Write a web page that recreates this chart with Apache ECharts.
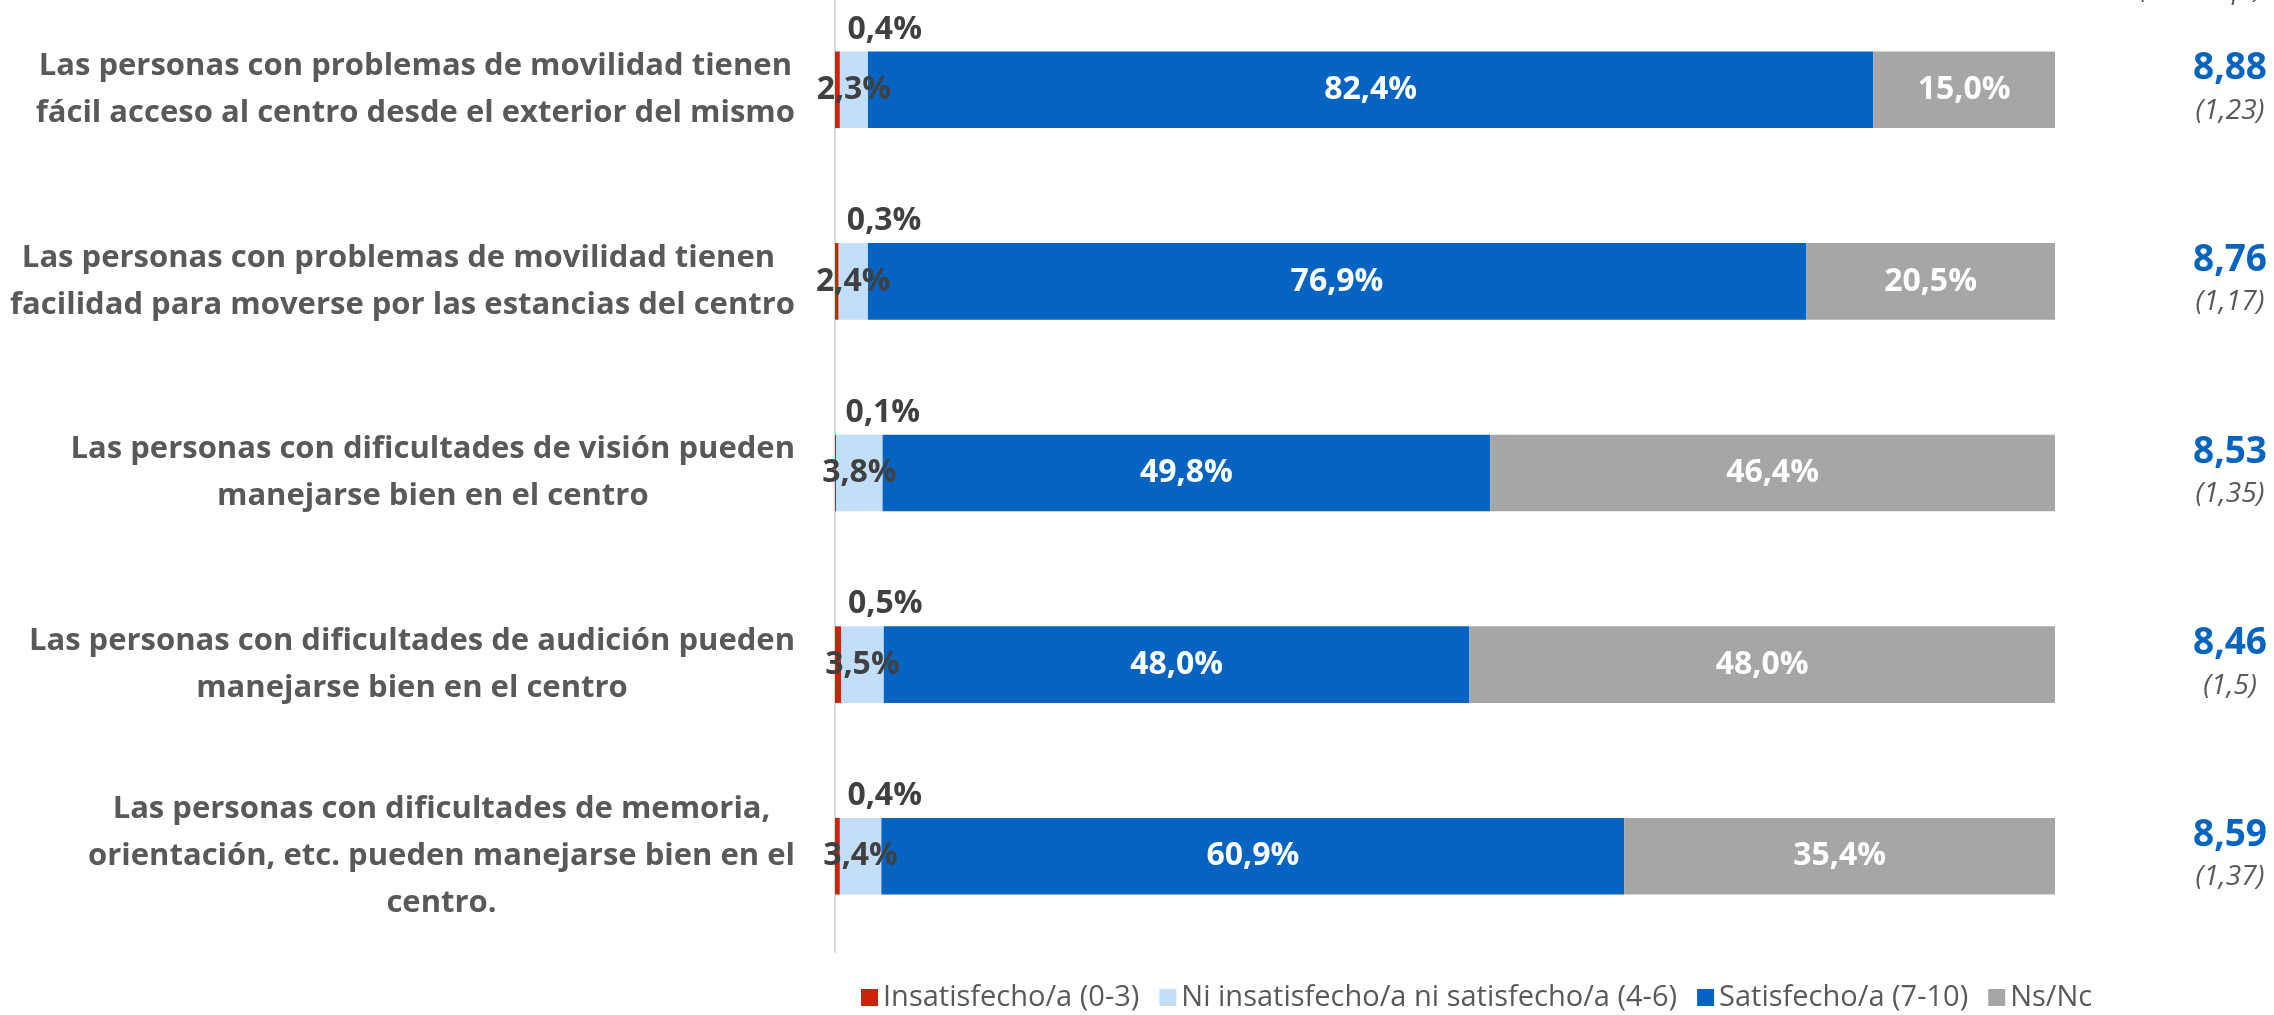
<!DOCTYPE html>
<html>
<head>
<meta charset="utf-8">
<script src="https://cdn.jsdelivr.net/npm/echarts@6/dist/echarts.min.js"></script>
<style>
  html, body { margin: 0; padding: 0; background: #fff; }
  #chart { width: 2274px; height: 1015px; }
</style>
</head>
<body>
<div id="chart"></div>
<script>
// preguntas (de arriba abajo)
const categories = [
  'Las personas con problemas de movilidad tienen\nfácil acceso al centro desde el exterior del mismo',
  'Las personas con problemas de movilidad tienen \nfacilidad para moverse por las estancias del centro',
  'Las personas con dificultades de visión pueden\nmanejarse bien en el centro',
  'Las personas con dificultades de audición pueden\nmanejarse bien en el centro',
  'Las personas con dificultades de memoria,\norientación, etc. pueden manejarse bien en el\ncentro.'
]
const seriesNames = ['Insatisfecho/a (0-3)', 'Ni insatisfecho/a ni satisfecho/a (4-6)', 'Satisfecho/a (7-10)', 'Ns/Nc']
const insatisfecho = [0.4, 0.3, 0.1, 0.5, 0.4]
const niNi = [2.3, 2.4, 3.8, 3.5, 3.4]
const satisfecho = [82.4, 76.9, 49.8, 48.0, 60.9]
const nsnc = [15.0, 20.5, 46.4, 48.0, 35.4]
const medias = [8.88, 8.76, 8.53, 8.46, 8.59]
const desviaciones = ['1,23', '1,17', '1,35', '1,5', '1,37']

const colors = ['#C8260A', '#C2DEF8', '#0563C1', '#A6A6A6']
const fontFamily = '"Open Sans", "Noto Sans", sans-serif'

let pct = function (p) {
  return p.value.toFixed(1).replace('.', ',') + '%'
}

let chart = echarts.init(document.getElementById('chart'))

// etiquetas de la izquierda: líneas centradas dentro del bloque
let leftFormatter = function (value) {
  return value.split('\n').map(function (l) { return '{l|' + l + '}' }).join('\n')
}

let labelDark = {
  show: true,
  formatter: pct,
  color: '#404040',
  fontWeight: 'bold',
  fontSize: 32,
  fontFamily: fontFamily
}
let labelWhite = {
  show: true,
  formatter: pct,
  color: '#ffffff',
  fontWeight: 'bold',
  fontSize: 32,
  fontFamily: fontFamily
}

let values = [insatisfecho, niNi, satisfecho, nsnc]
let series = values.map(function (arr, i) {
  let label
  if (i === 0) {
    label = Object.assign({}, labelDark, { position: 'top', align: 'left', offset: [10, 0], distance: 6 })
  } else if (i === 1) {
    label = Object.assign({}, labelDark, { position: 'inside' })
  } else {
    label = Object.assign({}, labelWhite, { position: 'inside' })
  }
  return {
    name: seriesNames[i],
    type: 'bar',
    stack: 'total',
    barWidth: '40%',
    data: arr,
    itemStyle: { color: colors[i] },
    label: label,
    emphasis: { disabled: true }
  }
})

chart.setOption({
  animation: false,
  color: colors,
  grid: {
    left: 835,
    right: 219,
    top: -6,
    bottom: 63,
    outerBoundsMode: 'none'
  },
  legend: {
    data: seriesNames,
    bottom: -2,
    left: 856,
    icon: 'rect',
    itemWidth: 17,
    itemHeight: 17,
    itemGap: 20,
    textStyle: {
      color: '#595959',
      fontSize: 29,
      fontFamily: fontFamily
    }
  },
  graphic: [{
    type: 'text',
    right: 12,
    top: -23,
    style: {
      text: '(Desv. típ.)',
      fontSize: 27,
      fontStyle: 'italic',
      fill: '#595959',
      fontFamily: fontFamily
    }
  }],
  xAxis: {
    type: 'value',
    min: 0,
    max: 100,
    show: false
  },
  yAxis: [{
    type: 'category',
    data: categories,
    inverse: true,
    axisLine: { show: true, lineStyle: { color: '#D9D9D9', width: 2 } },
    axisTick: { show: false },
    axisLabel: {
      margin: 40,
      align: 'right',
      formatter: leftFormatter,
      rich: {
        l: {
          align: 'center',
          color: '#595959',
          fontWeight: 'bold',
          fontSize: 31,
          lineHeight: 47,
          fontFamily: fontFamily
        }
      }
    }
  }, {
    type: 'category',
    data: categories,
    inverse: true,
    position: 'right',
    axisLine: { show: false },
    axisTick: { show: false },
    axisLabel: {
      margin: 212,
      align: 'right',
      formatter: function (value, idx) {
        return '{m|' + medias[idx].toFixed(2).replace('.', ',') + '}\n{s|(' + desviaciones[idx] + ')}'
      },
      rich: {
        m: {
          align: 'center',
          color: '#0563C1',
          fontWeight: 'bold',
          fontSize: 37,
          lineHeight: 42,
          fontFamily: fontFamily
        },
        s: {
          align: 'center',
          color: '#595959',
          fontStyle: 'italic',
          fontSize: 28,
          lineHeight: 42,
          fontFamily: fontFamily
        }
      }
    }
  }],
  series: series
})
</script>
</body>
</html>
